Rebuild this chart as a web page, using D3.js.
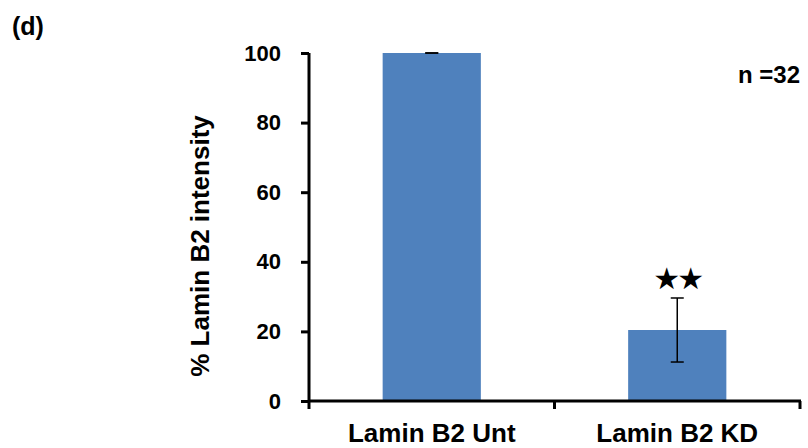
<!DOCTYPE html>
<html lang="en">
<head>
<meta charset="utf-8">
<title>Lamin B2 intensity</title>
<script src="https://d3js.org/d3.v7.min.js"></script>
<style>
  body { margin: 0; background: #fff; }
  text { font-family: "Liberation Sans", Arial, sans-serif; font-weight: bold; }
</style>
</head>
<body>
<script>
var categories = ["Lamin B2 Unt", "Lamin B2 KD"];
var means = [100, 20.4];
var errors = [0, 9.2];
var yTicks = [0, 20, 40, 60, 80, 100];

var width = 808, height = 448;
var svg = d3.select("body").append("svg")
    .attr("width", width).attr("height", height);

var x = d3.scaleBand()
    .domain(categories)
    .range([309, 800])
    .paddingInner(0.6)
    .paddingOuter(0.3);

var y = d3.scaleLinear()
    .domain([0, 100])
    .range([401, 53]);

// bars
svg.selectAll("rect.bar")
    .data(categories)
    .enter().append("rect")
    .attr("class", "bar")
    .attr("x", function(d) { return x(d); })
    .attr("width", x.bandwidth())
    .attr("y", function(d, i) { return y(means[i]); })
    .attr("height", function(d, i) { return y(0) - y(means[i]); })
    .attr("fill", "#4f81bd");

// error bars
var eb = svg.selectAll("g.err")
    .data(categories)
    .enter().append("g")
    .attr("class", "err")
    .attr("stroke", "#000")
    .attr("stroke-width", 1.5);
eb.append("line")
    .attr("x1", function(d) { return x(d) + x.bandwidth() / 2; })
    .attr("x2", function(d) { return x(d) + x.bandwidth() / 2; })
    .attr("y1", function(d, i) { return y(means[i] - errors[i]); })
    .attr("y2", function(d, i) { return y(means[i] + errors[i]); });
[-1, 1].forEach(function(s) {
  eb.append("line")
      .attr("x1", function(d) { return x(d) + x.bandwidth() / 2 - 6.5; })
      .attr("x2", function(d) { return x(d) + x.bandwidth() / 2 + 6.5; })
      .attr("y1", function(d, i) { return y(means[i] + s * errors[i]); })
      .attr("y2", function(d, i) { return y(means[i] + s * errors[i]); });
});

// y axis
var yAxis = svg.append("g")
    .attr("transform", "translate(309,0)")
    .call(d3.axisLeft(y).tickValues(yTicks).tickSize(8).tickSizeOuter(0).tickPadding(20));
yAxis.select(".domain").attr("stroke-width", 3).attr("d", "M0,401V53");
yAxis.selectAll(".tick line").attr("stroke-width", 3);
yAxis.selectAll(".tick text").attr("font-size", 22).attr("fill", "#000");

// x axis
var xAxis = svg.append("g")
    .attr("transform", "translate(0,401)")
    .call(d3.axisBottom(x).tickSize(0));
xAxis.select(".domain").attr("stroke-width", 3).attr("d", "M308,0H801");
xAxis.selectAll(".tick text")
    .attr("font-size", 26).attr("fill", "#000")
    .attr("y", 41).attr("dy", 0);
// category separator ticks
var sepX = [309, (x(categories[0]) + x.bandwidth() + x(categories[1])) / 2, 800];
svg.selectAll("line.sep")
    .data(sepX)
    .enter().append("line")
    .attr("class", "sep")
    .attr("x1", function(d) { return d; }).attr("x2", function(d) { return d; })
    .attr("y1", 401).attr("y2", 409)
    .attr("stroke", "#000").attr("stroke-width", 3);

// axis title
svg.append("text")
    .attr("transform", "translate(209,246) rotate(-90)")
    .attr("text-anchor", "middle")
    .attr("font-size", 26)
    .text("% Lamin B2 intensity");

// significance stars
svg.append("text")
    .attr("x", x(categories[1]) + x.bandwidth() / 2)
    .attr("y", y(means[1] + errors[1]) - 9)
    .attr("text-anchor", "middle")
    .attr("font-size", 30)
    .style("font-family", "DejaVu Sans")
    .style("letter-spacing", "-3px")
    .text("★★");

svg.append("text")
    .attr("x", 800).attr("y", 83)
    .attr("text-anchor", "end")
    .attr("font-size", 24)
    .text("n =32");

svg.append("text")
    .attr("x", 12).attr("y", 35)
    .attr("font-size", 25)
    .text("(d)");
</script>
</body>
</html>
